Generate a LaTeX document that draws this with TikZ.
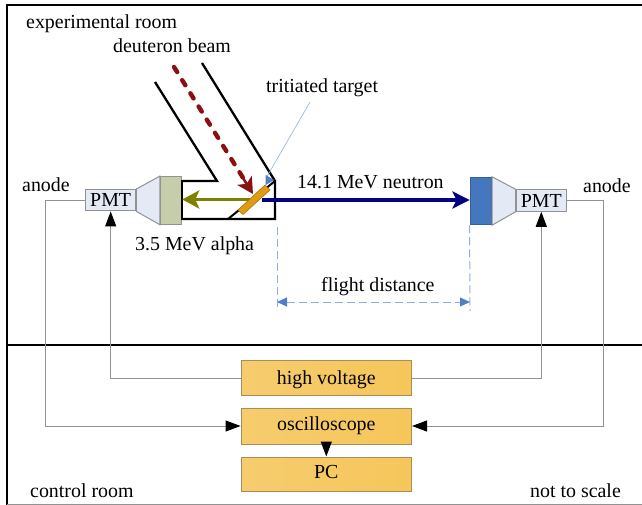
\documentclass[tikz,border=0pt]{standalone}
\usepackage{fontspec}
\setmainfont{Liberation Serif}
\usepackage{tikz}
\usetikzlibrary{arrows.meta,positioning,calc}
\definecolor{pmtfill}{HTML}{E3E9F5}
\definecolor{greendet}{HTML}{C5CEA8}
\definecolor{bluedet}{HTML}{4577BE}
\definecolor{wiregray}{HTML}{929292}
\definecolor{boxedge}{HTML}{A58F58}
\definecolor{dimblue}{HTML}{8FB0DE}
\definecolor{tipblue}{HTML}{4E80C8}
\definecolor{boxleft}{HTML}{F6CC6E}
\definecolor{boxmid}{HTML}{F8D072}
\definecolor{boxright}{HTML}{F6C65A}
\definecolor{targetfill}{HTML}{DF9C12}
\definecolor{alphaolive}{HTML}{808000}
\definecolor{neutronblue}{HTML}{000080}
\definecolor{beamred}{HTML}{8B1010}
\tikzset{
  lab/.style={anchor=base west, inner sep=0pt},
  pmtbox/.style={draw=wiregray, fill=pmtfill, line width=1pt, inner sep=0pt, minimum width=50.5pt, minimum height=21.5pt},
  detbox/.style={draw=wiregray, line width=1pt, inner sep=0pt, minimum width=21.5pt, minimum height=47.5pt},
  conebox/.style={draw=wiregray, fill=pmtfill, line width=1pt},
  ctrlbox/.style={draw=boxedge, line width=1pt, inner sep=0pt, minimum width=170.5pt, text depth=0pt,
    left color=boxleft, middle color=boxmid, right color=boxright},
  wire/.style={draw=wiregray, line width=1pt},
  wirearrow/.style={wire, -{Triangle[length=15pt,width=11pt,black]}},
  wall/.style={line width=2.3pt, line join=miter},
  dimline/.style={draw=dimblue, line width=1pt, dash pattern=on 8pt off 4pt},
}
\begin{document}
\begin{tikzpicture}[x=1pt,y=-1pt, font=\fontsize{19.9}{22}\selectfont]
\useasboundingbox (0,0) rectangle (642,505);
% rooms
\draw[line width=2.5pt] (642,5) -- (7,5) -- (7,505);
\draw[line width=2pt] (7,345) -- (642,345);
\draw[wire] (7,504.3) -- (642,504.3);

% labels
\foreach \nm/\x/\y/\lab in {
  exproom/26/29/{experimental room},
  beamlab/113/53/{deuteron beam},
  targetlab/266/93/{tritiated target},
  anodeL/22/192/{anode},
  alphalab/135/250/{3.5 MeV alpha},
  neutronlab/297/189/{14.1 MeV neutron},
  anodeR/583/193/{anode},
  flightlab/321/291/{flight distance},
  ctrlroom/30/497/{control room},
  scalelab/530/497/{not to scale}
}{
  \node[lab] (\nm) at (\x,\y) {\lab};
}

% detectors
\node[pmtbox] (pmtL) at (110.7,200.2) {PMT};
\node[detbox, fill=greendet] (detL) at (171,200.4) {};
\draw[conebox] (pmtL.north east) -- (detL.north west) -- (detL.south west) -- (pmtL.south east) -- cycle;
\node[pmtbox] (pmtR) at (541.3,200.5) {PMT};
\node[detbox, draw=bluedet!80!black, fill=bluedet] (detR) at (480.8,201) {};
\draw[conebox] (pmtR.north west) -- (detR.north east) -- (detR.south east) -- (pmtR.south west) -- cycle;

% beam pipe
\draw[wall] (155,82) -- (217,181) -- (detL.east |- 0,181);
\draw[wall] (202,63) -- (275,181) -- (275,219) -- (detL.east |- 0,219);
\draw[wall] (detL.east |- 0,180) -- (detL.east |- 0,220);
\draw[line width=2pt] (228,219) -- (275,181);

% particles
\coordinate (alphastart) at (250,199.5);
\coordinate (neutronstart) at (262,200);
\draw[draw=alphaolive, line width=3.5pt, -{Stealth[length=17pt,width=18pt,inset=4pt]}] (alphastart) -- (detL.east |- alphastart);
\draw[draw=neutronblue, line width=3.5pt, -{Stealth[length=17pt,width=17pt,inset=4pt]}] (neutronstart) -- (detR.west |- neutronstart);
\draw[draw=beamred, line width=4.4pt, dash pattern=on 6pt off 9.5pt, line cap=round] (174,67) -- (245,181);
\draw[draw=beamred, line width=2.5pt, -{Stealth[length=16pt,width=17pt,inset=4pt]}] (243,178) -- (253,194);

% target
\draw[draw=targetfill!75!black, fill=targetfill, line width=0.6pt] (238,210) -- (243,214.5) -- (270,190) -- (265,185) -- cycle;
\coordinate (targetend) at (267,176.5);
\draw[draw=dimblue, line width=0.6pt] (310,102) -- (targetend);
\fill[tipblue] (265.7,175) -- (274,180) -- (265.7,185) -- cycle;

% flight distance
\coordinate (dimL) at (277,302);
\coordinate (dimR) at (470,302);
\draw[dimline] (277,227) -- (277,311);
\draw[dimline] (detR.south west) -- (470,311);
\draw[dimline, {Triangle[length=10pt,width=9pt,tipblue]}-{Triangle[length=10pt,width=9pt,tipblue]}] (dimL) -- (dimR);

% control boxes
\node[ctrlbox, minimum height=35pt, text height=14.6pt] (hv) at (326.3,377.5) {high voltage};
\node[ctrlbox, minimum height=36pt, text height=8.6pt] (scope) at (326.3,426) {oscilloscope};
\node[ctrlbox, minimum height=34pt, text height=9pt] (pc) at (326.3,474) {PC};

% wiring
\draw[wirearrow] (hv.west |- 0,378) -| (pmtL.south);
\draw[wirearrow] (hv.east |- 0,378) -| (pmtR.south);
\draw[wirearrow] (pmtL.west) -- (45,200.2) |- (scope.west);
\draw[wirearrow] (pmtR.east) -- (603.5,200.5) |- (scope.east);
\draw[wirearrow] (scope.south) -- (pc.north);
\end{tikzpicture}
\end{document}
